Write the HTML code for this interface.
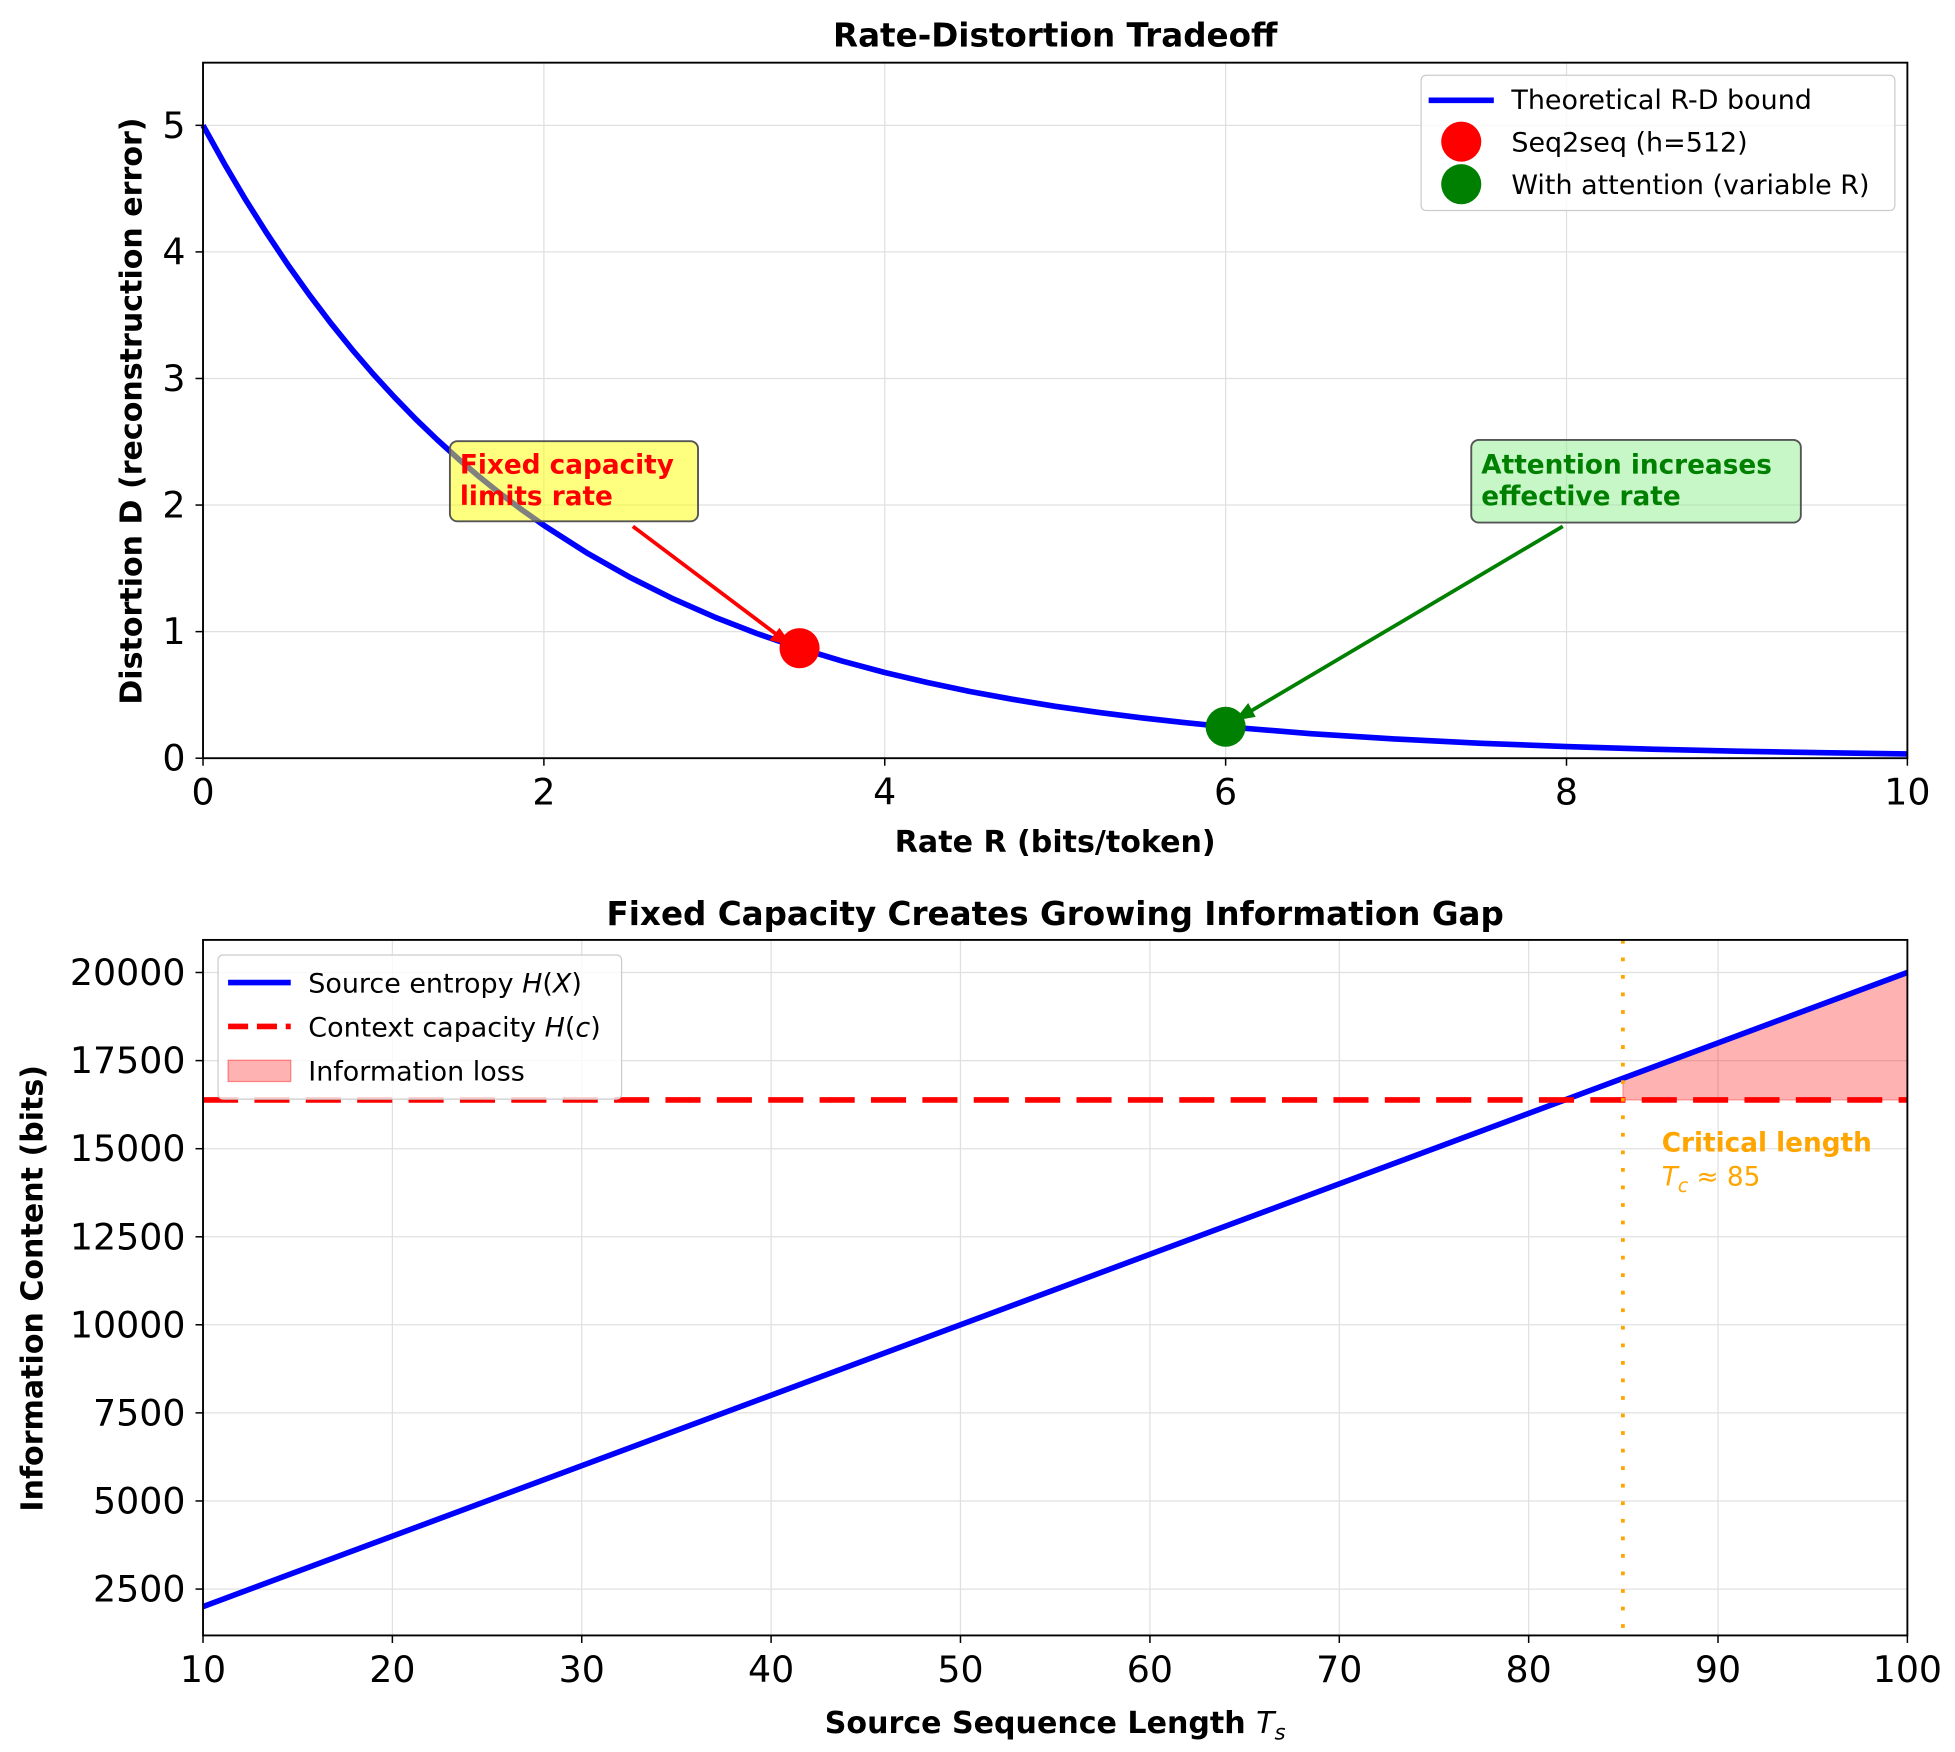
<!DOCTYPE html>
<html><head><meta charset="utf-8"><style>html,body{margin:0;padding:0;background:#fff}svg{display:block}</style></head>
<body>
<svg width="1955" height="1752" viewBox="0 0 1560 1398" xmlns="http://www.w3.org/2000/svg" font-family="'DejaVu Sans','Liberation Sans',sans-serif">
<rect width="1560" height="1398" fill="#fff"/>
<!-- TOP PLOT -->
<g stroke="#e0e0e0" stroke-width="1">
<line x1="162" y1="50" x2="162" y2="605"/><line x1="434" y1="50" x2="434" y2="605"/><line x1="706" y1="50" x2="706" y2="605"/><line x1="978" y1="50" x2="978" y2="605"/><line x1="1250" y1="50" x2="1250" y2="605"/>
<line x1="162" y1="504" x2="1522" y2="504"/><line x1="162" y1="403" x2="1522" y2="403"/><line x1="162" y1="302" x2="1522" y2="302"/><line x1="162" y1="201" x2="1522" y2="201"/><line x1="162" y1="100" x2="1522" y2="100"/>
</g>
<polyline fill="none" stroke="#0000ff" stroke-width="4.5" stroke-linejoin="round" points="162,100 179,130.6 196,159.4 213,186.3 230,211.7 247,235.5 264,257.9 281,278.9 298,298.7 315,317.2 332,334.7 349,351.0 366,366.4 383,380.9 400,394.5 417,407.2 434,419.2 468,441.0 502,460.3 536,477.3 570,492.3 604,505.5 638,517.2 672,527.5 706,536.6 740,544.6 774,551.8 808,558.0 842,563.6 876,568.4 910,572.7 944,576.5 978,579.9 1046,585.4 1114,589.7 1182,593.1 1250,595.7 1318,597.8 1386,599.4 1454,600.6 1522,601.6"/>
<!-- annotations -->
<line x1="505" y1="420" x2="626" y2="511" stroke="#ff0000" stroke-width="3"/>
<polygon points="632,515 614,511 622,501" fill="#ff0000"/>
<line x1="1247" y1="420" x2="992" y2="571" stroke="#008000" stroke-width="3"/>
<polygon points="985,575 996,561 1002,572" fill="#008000"/>
<rect x="359" y="352" width="198" height="64" rx="6" fill="#ffff00" fill-opacity="0.5" stroke="#555" stroke-width="1.5"/>
<text x="367" y="378" font-size="21" font-weight="bold" fill="#ff0000">Fixed capacity</text>
<text x="367" y="403" font-size="21" font-weight="bold" fill="#ff0000">limits rate</text>
<rect x="1174" y="351" width="263" height="66" rx="6" fill="#90ee90" fill-opacity="0.5" stroke="#555" stroke-width="1.5"/>
<text x="1182" y="378" font-size="21" font-weight="bold" fill="#008000">Attention increases</text>
<text x="1182" y="403" font-size="21" font-weight="bold" fill="#008000">effective rate</text>
<circle cx="638" cy="517.2" r="16" fill="#ff0000"/>
<circle cx="978" cy="579.9" r="16" fill="#008000"/>
<rect x="162" y="50" width="1360" height="555" fill="none" stroke="#000" stroke-width="1.5"/>
<g stroke="#000" stroke-width="1.2">
<line x1="162" y1="605" x2="162" y2="611"/><line x1="434" y1="605" x2="434" y2="611"/><line x1="706" y1="605" x2="706" y2="611"/><line x1="978" y1="605" x2="978" y2="611"/><line x1="1250" y1="605" x2="1250" y2="611"/><line x1="1522" y1="605" x2="1522" y2="611"/>
<line x1="156" y1="605" x2="162" y2="605"/><line x1="156" y1="504" x2="162" y2="504"/><line x1="156" y1="403" x2="162" y2="403"/><line x1="156" y1="302" x2="162" y2="302"/><line x1="156" y1="201" x2="162" y2="201"/><line x1="156" y1="100" x2="162" y2="100"/>
</g>
<g font-size="29" text-anchor="middle">
<text x="162" y="642">0</text><text x="434" y="642">2</text><text x="706" y="642">4</text><text x="978" y="642">6</text><text x="1250" y="642">8</text><text x="1522" y="642">10</text>
</g>
<g font-size="29" text-anchor="end">
<text x="148" y="615">0</text><text x="148" y="514">1</text><text x="148" y="413">2</text><text x="148" y="312">3</text><text x="148" y="211">4</text><text x="148" y="110">5</text>
</g>
<text x="842" y="680" font-size="24" font-weight="bold" text-anchor="middle">Rate R (bits/token)</text>
<text transform="translate(113,328) rotate(-90)" font-size="24" font-weight="bold" text-anchor="middle">Distortion D (reconstruction error)</text>
<text x="842" y="37" font-size="26" font-weight="bold" text-anchor="middle">Rate-Distortion Tradeoff</text>
<rect x="1134" y="60" width="378" height="108" rx="4" fill="#fff" fill-opacity="0.8" stroke="#ccc" stroke-width="1"/>
<line x1="1140" y1="80" x2="1192" y2="80" stroke="#0000ff" stroke-width="4.5"/>
<text x="1206" y="87" font-size="21.5">Theoretical R-D bound</text>
<circle cx="1166" cy="113" r="16" fill="#ff0000"/>
<text x="1206" y="121" font-size="21.5">Seq2seq (h=512)</text>
<circle cx="1166" cy="147" r="16" fill="#008000"/>
<text x="1206" y="155" font-size="21.5">With attention (variable R)</text>

<!-- BOTTOM PLOT -->
<g stroke="#e0e0e0" stroke-width="1">
<line x1="313.1" y1="750" x2="313.1" y2="1305"/><line x1="464.2" y1="750" x2="464.2" y2="1305"/><line x1="615.3" y1="750" x2="615.3" y2="1305"/><line x1="766.4" y1="750" x2="766.4" y2="1305"/><line x1="917.6" y1="750" x2="917.6" y2="1305"/><line x1="1068.7" y1="750" x2="1068.7" y2="1305"/><line x1="1219.8" y1="750" x2="1219.8" y2="1305"/><line x1="1370.9" y1="750" x2="1370.9" y2="1305"/>
<line x1="162" y1="1268" x2="1522" y2="1268"/><line x1="162" y1="1197.7" x2="1522" y2="1197.7"/><line x1="162" y1="1127.4" x2="1522" y2="1127.4"/><line x1="162" y1="1057.1" x2="1522" y2="1057.1"/><line x1="162" y1="986.9" x2="1522" y2="986.9"/><line x1="162" y1="916.6" x2="1522" y2="916.6"/><line x1="162" y1="846.3" x2="1522" y2="846.3"/><line x1="162" y1="776" x2="1522" y2="776"/>
</g>
<polygon points="1295,877.7 1295,860.3 1522,776 1522,877.7" fill="#ff0000" fill-opacity="0.3" stroke="#ff0000" stroke-opacity="0.3"/>
<line x1="162" y1="1282" x2="1522" y2="776" stroke="#0000ff" stroke-width="4.5"/>
<line x1="162" y1="877.7" x2="1522" y2="877.7" stroke="#ff0000" stroke-width="4.5" stroke-dasharray="28,13"/>
<line x1="1295" y1="750" x2="1295" y2="1305" stroke="#ffa500" stroke-width="3" stroke-dasharray="3,11"/>
<text x="1326" y="919" font-size="21" font-weight="bold" fill="#ffa500">Critical length</text>
<text x="1326" y="946" font-size="21" fill="#ffa500"><tspan font-style="italic">T</tspan><tspan font-style="italic" font-size="15" dy="5">c</tspan><tspan dy="-5"> ≈ 85</tspan></text>
<rect x="162" y="750" width="1360" height="555" fill="none" stroke="#000" stroke-width="1.5"/>
<g stroke="#000" stroke-width="1.2">
<line x1="162" y1="1305" x2="162" y2="1311"/><line x1="313.1" y1="1305" x2="313.1" y2="1311"/><line x1="464.2" y1="1305" x2="464.2" y2="1311"/><line x1="615.3" y1="1305" x2="615.3" y2="1311"/><line x1="766.4" y1="1305" x2="766.4" y2="1311"/><line x1="917.6" y1="1305" x2="917.6" y2="1311"/><line x1="1068.7" y1="1305" x2="1068.7" y2="1311"/><line x1="1219.8" y1="1305" x2="1219.8" y2="1311"/><line x1="1370.9" y1="1305" x2="1370.9" y2="1311"/><line x1="1522" y1="1305" x2="1522" y2="1311"/>
<line x1="156" y1="1268" x2="162" y2="1268"/><line x1="156" y1="1197.7" x2="162" y2="1197.7"/><line x1="156" y1="1127.4" x2="162" y2="1127.4"/><line x1="156" y1="1057.1" x2="162" y2="1057.1"/><line x1="156" y1="986.9" x2="162" y2="986.9"/><line x1="156" y1="916.6" x2="162" y2="916.6"/><line x1="156" y1="846.3" x2="162" y2="846.3"/><line x1="156" y1="776" x2="162" y2="776"/>
</g>
<g font-size="29" text-anchor="middle">
<text x="162" y="1342">10</text><text x="313.1" y="1342">20</text><text x="464.2" y="1342">30</text><text x="615.3" y="1342">40</text><text x="766.4" y="1342">50</text><text x="917.6" y="1342">60</text><text x="1068.7" y="1342">70</text><text x="1219.8" y="1342">80</text><text x="1370.9" y="1342">90</text><text x="1522" y="1342">100</text>
</g>
<g font-size="29" text-anchor="end">
<text x="148" y="1278">2500</text><text x="148" y="1207.7">5000</text><text x="148" y="1137.4">7500</text><text x="148" y="1067.1">10000</text><text x="148" y="996.9">12500</text><text x="148" y="926.6">15000</text><text x="148" y="856.3">17500</text><text x="148" y="786">20000</text>
</g>
<text x="842" y="1383" font-size="24" font-weight="bold" text-anchor="middle">Source Sequence Length <tspan font-style="italic" font-weight="normal">T</tspan><tspan font-style="italic" font-weight="normal" font-size="17" dy="5">s</tspan></text>
<text transform="translate(34,1028) rotate(-90)" font-size="24" font-weight="bold" text-anchor="middle">Information Content (bits)</text>
<text x="842" y="738" font-size="26" font-weight="bold" text-anchor="middle">Fixed Capacity Creates Growing Information Gap</text>
<rect x="174" y="762" width="322" height="115" rx="4" fill="#fff" fill-opacity="0.8" stroke="#ccc" stroke-width="1"/>
<line x1="182" y1="784" x2="232" y2="784" stroke="#0000ff" stroke-width="4.5"/>
<text x="246" y="792" font-size="21.5">Source entropy <tspan font-style="italic">H</tspan>(<tspan font-style="italic">X</tspan>)</text>
<line x1="182" y1="819" x2="232" y2="819" stroke="#ff0000" stroke-width="4.5" stroke-dasharray="16,7"/>
<text x="246" y="827" font-size="21.5">Context capacity <tspan font-style="italic">H</tspan>(<tspan font-style="italic">c</tspan>)</text>
<rect x="182" y="846" width="50" height="17" fill="#ff0000" fill-opacity="0.3" stroke="#ff0000" stroke-opacity="0.4"/>
<text x="246" y="862" font-size="21.5">Information loss</text>
</svg>
</body></html>
